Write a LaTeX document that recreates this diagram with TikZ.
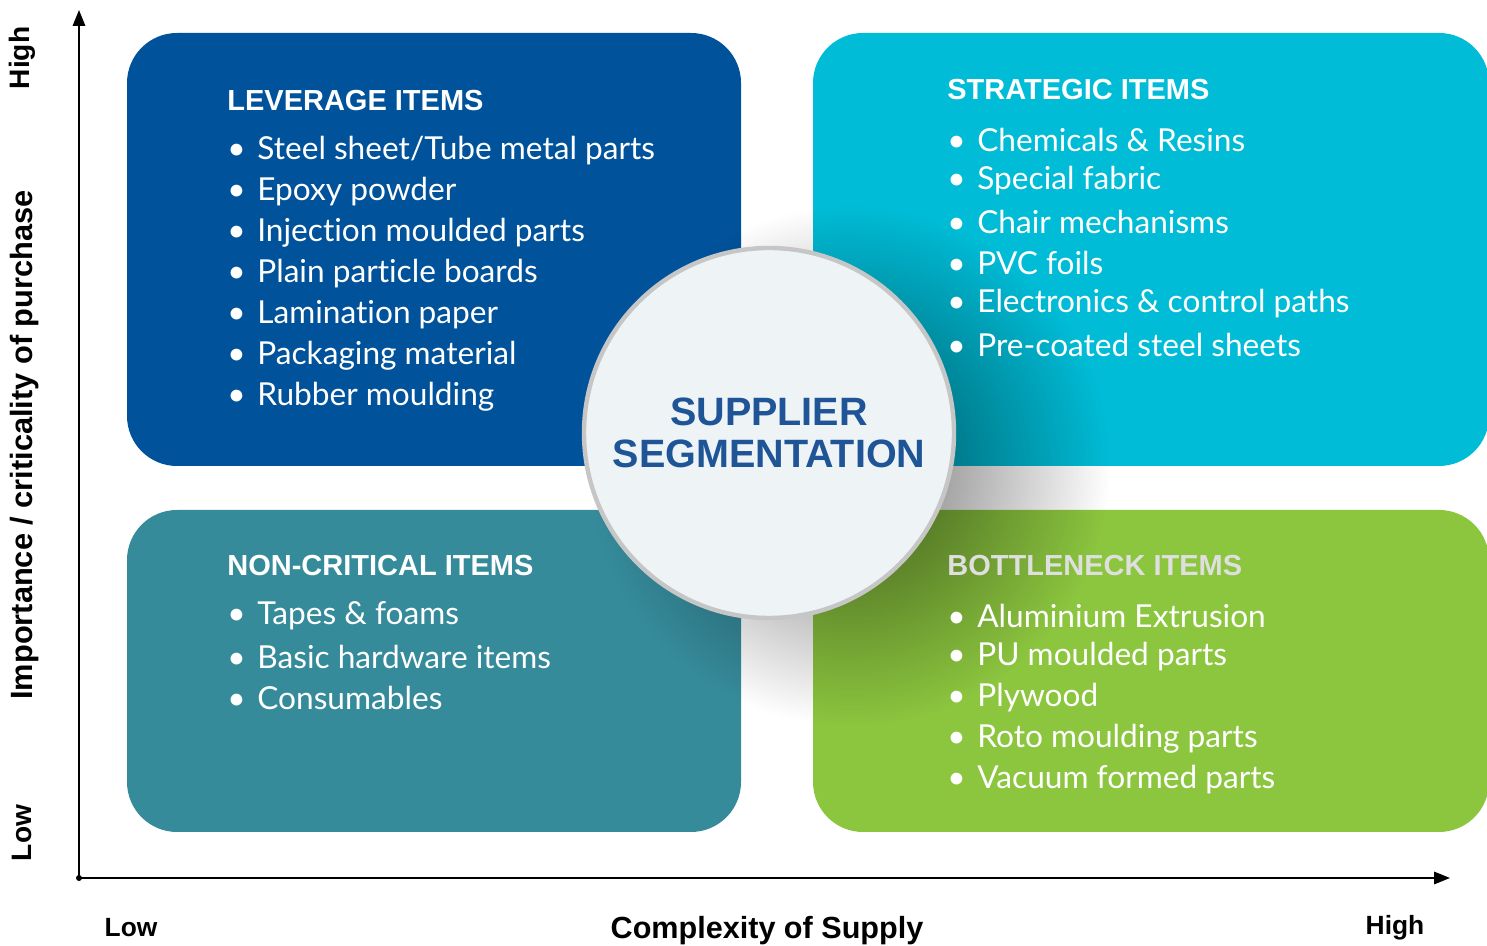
\documentclass[tikz,border=0pt]{standalone}
\usepackage{fontspec}
\setmainfont{Lato}[Ligatures=NoCommon]
\newfontfamily\arialfont{Liberation Sans}
\usetikzlibrary{arrows.meta,fadings}
\definecolor{leverage}{RGB}{0,82,155}
\definecolor{strategic}{RGB}{0,188,214}
\definecolor{noncritical}{RGB}{54,139,155}
\definecolor{bottleneck}{RGB}{140,198,63}
\definecolor{hubtext}{RGB}{31,85,151}
\definecolor{hubfill}{RGB}{238,243,246}
\tikzstyle{quadrant}=[rounded corners=1cm, inner sep=0pt]
\tikzset{header/.style={anchor=west, inner sep=0pt, text=white, font=\arialfont\bfseries\fontsize{16.5}{19}\selectfont}}
\tikzset{item/.style={anchor=west, inner sep=0pt, text=white, font=\fontsize{18}{21}\selectfont}}
\tikzset{axislabel/.style={inner sep=0pt, font=\arialfont\bfseries\fontsize{16}{18}\selectfont}}
\tikzset{scalelabel/.style={inner sep=0pt, font=\arialfont\bfseries\fontsize{15}{18}\selectfont}}
\tikzset{axis/.style={line width=1.1pt, -{Triangle[length=9pt,width=7pt]}}}
\tikzfading[name=hubshade, inner color=transparent!25, outer color=transparent!100]
\newcommand{\bul}{\makebox[0.6cm][l]{\textbullet}}

\begin{document}
\begin{tikzpicture}
  \useasboundingbox (0,0) rectangle (29.74,18.92);
  %% Quadrants
  \draw (8.68,13.93) node[quadrant, fill=leverage, minimum width=12.28cm, minimum height=8.66cm] (LEV) {};
  \draw (23.02,13.93) node[quadrant, fill=strategic, minimum width=13.52cm, minimum height=8.66cm] (STR) {};
  \draw (8.68,5.5) node[quadrant, fill=noncritical, minimum width=12.28cm, minimum height=6.44cm] (NON) {};
  \draw (23.02,5.5) node[quadrant, fill=bottleneck, minimum width=13.52cm, minimum height=6.44cm] (BOT) {};

  %% Shadow under the hub
  \fill[black, path fading=hubshade, opacity=0.75] (17.0,9.6) circle (5.2);

  %% Headers
  \draw (4.54,16.9) node[header] (LEVH) {LEVERAGE ITEMS};
  \draw (18.94,17.12) node[header] (STRH) {STRATEGIC ITEMS};
  \draw (4.54,7.6) node[header] (NONH) {NON-CRITICAL ITEMS};
  \draw (18.94,7.6) node[header, text=white!75!gray] (BOTH) {BOTTLENECK ITEMS};

  %% Items
  \foreach \txt [count=\i] in {Steel sheet/Tube metal parts, Epoxy powder, Injection moulded parts,
      Plain particle boards, Lamination paper, Packaging material, Rubber moulding}
    \draw (4.54,16.73-0.82*\i) node[item] (L\i) {\bul\txt};
  \foreach \txt [count=\i] in {Chemicals \& Resins, Special fabric, Chair mechanisms, PVC foils,
      Electronics \& control paths, Pre-coated steel sheets}
    \draw (18.94,16.95-0.82*\i) node[item] (S\i) {\bul\txt};
  \foreach \txt [count=\i] in {Tapes \& foams, Basic hardware items, Consumables}
    \draw (4.54,7.42-0.82*\i) node[item] (N\i) {\bul\txt};
  \foreach \txt [count=\i] in {Aluminium Extrusion, PU moulded parts, Plywood,
      Roto moulding parts, Vacuum formed parts}
    \draw (18.94,7.42-0.82*\i) node[item] (B\i) {\bul\txt};

  %% Hub
  \draw (15.38,10.26) node[circle, minimum size=7.4cm, fill=hubfill, draw=gray!45, line width=2.5pt,
    align=center, text=hubtext, font=\arialfont\bfseries\fontsize{22.5}{24}\selectfont] (HUB)
    {SUPPLIER\\SEGMENTATION};

  %% Axes
  \coordinate (O) at (1.58,1.36);
  \coordinate (YT) at (1.58,18.72);
  \coordinate (XT) at (29.0,1.36);
  \draw[axis] (O) -- (YT);
  \draw[axis] (O) -- (XT);
  \fill (O) circle (0.06);

  %% Axis labels
  \draw (0.44,17.76) node[axislabel, rotate=90] (YHI) {High};
  \draw (0.5,10.02) node[axislabel, rotate=90, font=\arialfont\bfseries\fontsize{17.5}{20}\selectfont] (YLAB) {Importance / criticality of purchase};
  \draw (0.44,2.26) node[axislabel, rotate=90] (YLO) {Low};
  \draw (2.62,0.36) node[scalelabel] (XLO) {Low};
  \draw (15.34,0.3) node[scalelabel, font=\arialfont\bfseries\fontsize{17.4}{20}\selectfont] (XLAB) {Complexity of Supply};
  \draw (27.9,0.36) node[scalelabel] (XHI) {High};
\end{tikzpicture}
\end{document}
